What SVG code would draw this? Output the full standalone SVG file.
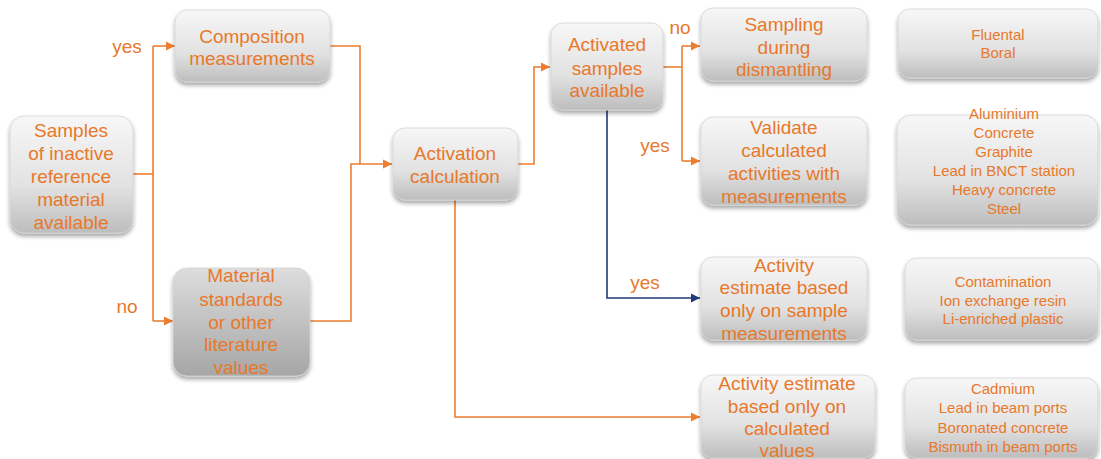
<svg xmlns="http://www.w3.org/2000/svg" width="1101" height="459" viewBox="0 0 1101 459">
<defs>
<linearGradient id="g1" x1="0" y1="0" x2="0" y2="1">
<stop offset="0" stop-color="#f7f7f7"/>
<stop offset="0.6" stop-color="#e2e2e2"/>
<stop offset="1" stop-color="#bdbdbd"/>
</linearGradient>
<linearGradient id="g2" x1="0" y1="0" x2="0" y2="1">
<stop offset="0" stop-color="#dddddd"/>
<stop offset="1" stop-color="#a6a6a6"/>
</linearGradient>
<filter id="sh" x="-10%" y="-10%" width="120%" height="130%">
<feDropShadow dx="0" dy="3" stdDeviation="2" flood-color="#000" flood-opacity="0.35"/>
</filter>
<marker id="ao" markerUnits="userSpaceOnUse" markerWidth="10" markerHeight="10" refX="9" refY="5" orient="auto">
<path d="M0,0.5 L9,5 L0,9.5 Z" fill="#ED7D31"/>
</marker>
<marker id="ab" markerUnits="userSpaceOnUse" markerWidth="10" markerHeight="10" refX="9" refY="5" orient="auto">
<path d="M0,0.5 L9,5 L0,9.5 Z" fill="#1F3A78"/>
</marker>
</defs>
<style>
.box{fill:url(#g1);stroke:#d4d4d4;stroke-width:0.8;filter:url(#sh)}
.dark{fill:url(#g2)}
.t{font-family:"Liberation Sans",Arial,sans-serif;font-size:19px;fill:#E8782A;text-anchor:middle}
.s{font-family:"Liberation Sans",Arial,sans-serif;font-size:15px;fill:#E8782A;text-anchor:middle}
.c{fill:none;stroke:#ED7D31;stroke-width:1.6}
.cb{fill:none;stroke:#1F3A78;stroke-width:1.6}
</style>
<g id="connectors">
<path class="c" d="M133,174 H153"/>
<path class="c" d="M153,46 V321"/>
<path class="c" d="M153,46 H175" marker-end="url(#ao)"/>
<path class="c" d="M153,321 H173" marker-end="url(#ao)"/>
<path class="c" d="M330,46 H360 V164 H392" marker-end="url(#ao)"/>
<path class="c" d="M310,321 H351 V164 H360"/>
<path class="c" d="M518,164 H534 V67 H550" marker-end="url(#ao)"/>
<path class="c" d="M663,67 H682"/>
<path class="c" d="M682,46 V161"/>
<path class="c" d="M682,46 H700" marker-end="url(#ao)"/>
<path class="c" d="M682,161 H700" marker-end="url(#ao)"/>
<path class="cb" d="M607,110 V298 H700" marker-end="url(#ab)"/>
<path class="c" d="M455,200 V417 H700" marker-end="url(#ao)"/>
<text class="t" x="127" y="53">yes</text>
<text class="t" x="127" y="313">no</text>
<text class="t" x="680" y="34">no</text>
<text class="t" x="655" y="152">yes</text>
<text class="t" x="645" y="289">yes</text>
</g>
<g id="n1">
<rect class="box" x="10" y="116" width="123" height="117" rx="14"/>
<text class="t" x="71" y="137">Samples</text>
<text class="t" x="71" y="160">of inactive</text>
<text class="t" x="71" y="183">reference</text>
<text class="t" x="71" y="206">material</text>
<text class="t" x="71" y="229">available</text>
</g>
<g id="n2">
<rect class="box" x="175" y="10" width="155" height="72" rx="12"/>
<text class="t" x="252" y="43">Composition</text>
<text class="t" x="252" y="65">measurements</text>
</g>
<g id="n3">
<rect class="box dark" x="173" y="268" width="137" height="108" rx="14"/>
<text class="t" x="241" y="282">Material</text>
<text class="t" x="241" y="306">standards</text>
<text class="t" x="241" y="329">or other</text>
<text class="t" x="241" y="351">literature</text>
<text class="t" x="241" y="374">values</text>
</g>
<g id="n4">
<rect class="box" x="393" y="128" width="125" height="72" rx="12"/>
<text class="t" x="455" y="160">Activation</text>
<text class="t" x="455" y="183">calculation</text>
</g>
<g id="n5">
<rect class="box" x="551" y="23" width="112" height="87" rx="12"/>
<text class="t" x="607" y="51">Activated</text>
<text class="t" x="607" y="75">samples</text>
<text class="t" x="607" y="97">available</text>
</g>
<g id="n6">
<rect class="box" x="701" y="8" width="166" height="73" rx="12"/>
<text class="t" x="784" y="31">Sampling</text>
<text class="t" x="784" y="54">during</text>
<text class="t" x="784" y="76">dismantling</text>
</g>
<g id="n7">
<rect class="box" x="701" y="117" width="166" height="88" rx="12"/>
<text class="t" x="784" y="134">Validate</text>
<text class="t" x="784" y="157">calculated</text>
<text class="t" x="784" y="180">activities with</text>
<text class="t" x="784" y="203">measurements</text>
</g>
<g id="n8">
<rect class="box" x="701" y="257" width="166" height="83" rx="12"/>
<text class="t" x="784" y="272">Activity</text>
<text class="t" x="784" y="294">estimate based</text>
<text class="t" x="784" y="317">only on sample</text>
<text class="t" x="784" y="340">measurements</text>
</g>
<g id="n9">
<rect class="box" x="701" y="375" width="174" height="83" rx="12"/>
<text class="t" x="787" y="390">Activity estimate</text>
<text class="t" x="787" y="413">based only on</text>
<text class="t" x="787" y="435">calculated</text>
<text class="t" x="787" y="457">values</text>
</g>
<g id="r1">
<rect class="box" x="898" y="9" width="200" height="69" rx="12"/>
<text class="s" x="998" y="40">Fluental</text>
<text class="s" x="998" y="58">Boral</text>
</g>
<g id="r2">
<rect class="box" x="897" y="115" width="201" height="110" rx="14"/>
<text class="s" x="1004" y="119">Aluminium</text>
<text class="s" x="1004" y="138">Concrete</text>
<text class="s" x="1004" y="157">Graphite</text>
<text class="s" x="1004" y="176">Lead in BNCT  station</text>
<text class="s" x="1004" y="195">Heavy concrete</text>
<text class="s" x="1004" y="214">Steel</text>
</g>
<g id="r3">
<rect class="box" x="905" y="258" width="193" height="82" rx="12"/>
<text class="s" x="1003" y="287">Contamination</text>
<text class="s" x="1003" y="306">Ion exchange resin</text>
<text class="s" x="1003" y="324">Li-enriched plastic</text>
</g>
<g id="r4">
<rect class="box" x="905" y="378" width="193" height="80" rx="12"/>
<text class="s" x="1003" y="394">Cadmium</text>
<text class="s" x="1003" y="413">Lead in beam ports</text>
<text class="s" x="1003" y="433">Boronated concrete</text>
<text class="s" x="1003" y="452">Bismuth  in beam ports</text>
</g>
</svg>
